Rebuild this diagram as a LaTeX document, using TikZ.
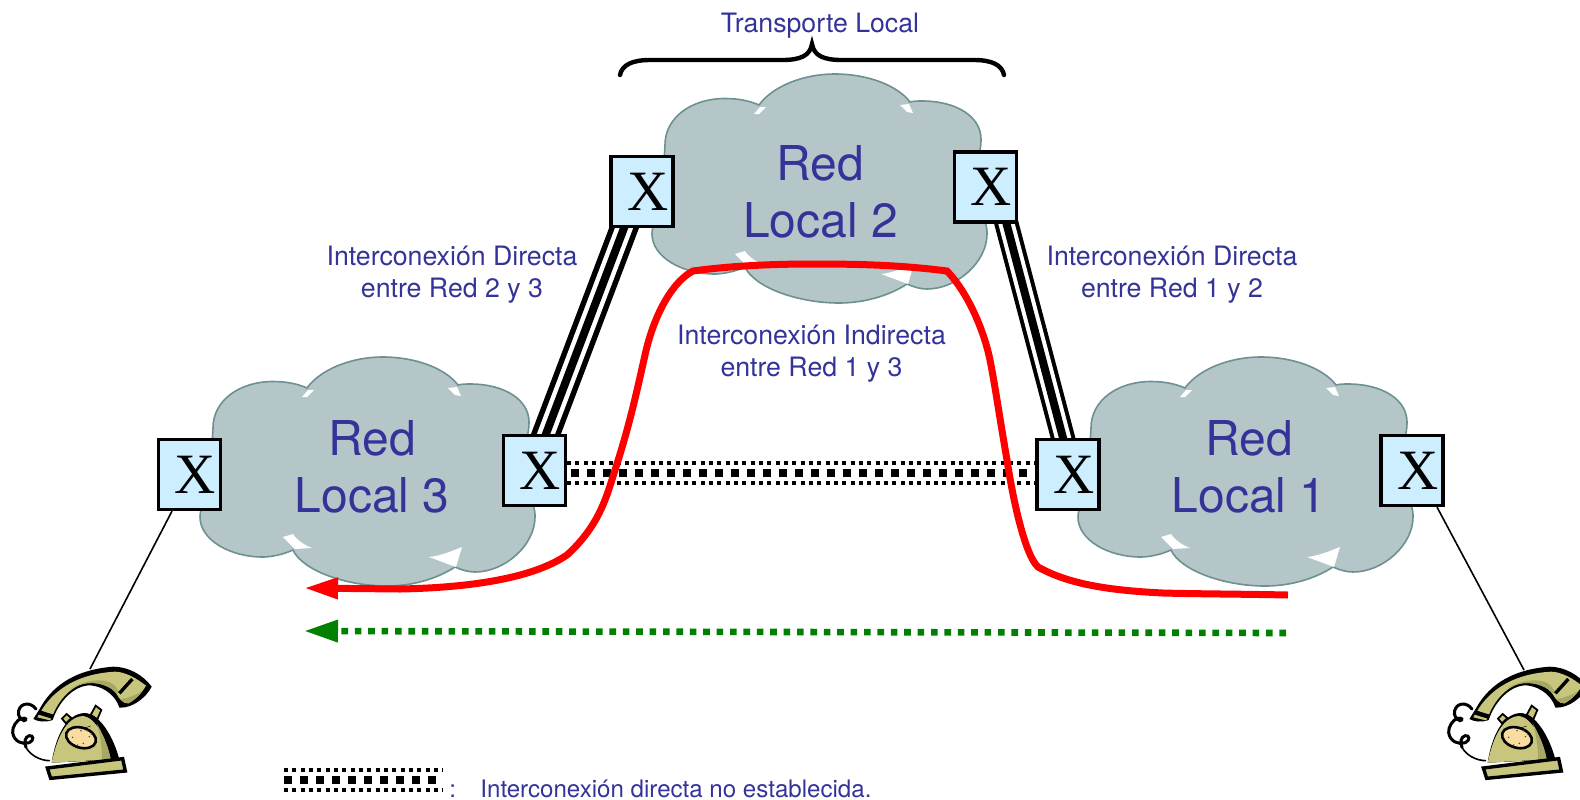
\documentclass[tikz,border=0pt]{standalone}
\usepackage{fontspec}
\setmainfont{TeX Gyre Heros}
\newfontfamily\timesx{Liberation Serif}
\usetikzlibrary{arrows.meta,backgrounds,calc}
\definecolor{txtblue}{HTML}{333399}
\definecolor{cloudfill}{HTML}{B4C6C8}
\definecolor{cloudline}{HTML}{6D9090}
\definecolor{boxfill}{HTML}{CCEEFF}
\definecolor{olive}{HTML}{C8C67C}
\definecolor{olivedark}{HTML}{A8A866}
\definecolor{dialfill}{HTML}{F8DCA0}
\definecolor{linkred}{HTML}{FF0000}
\definecolor{linkgreen}{HTML}{008000}
\tikzset{
  xbox/.style={draw=black,line width=1.6pt,fill=boxfill,minimum width=31pt,minimum height=35pt,inner sep=0pt,
    font=\timesx\fontsize{28.5}{28.5}\selectfont,text=black},
  bigtxt/.style={align=center,inner sep=0pt,text=txtblue,font=\fontsize{24}{28.5}\selectfont},
  smalltxt/.style={align=center,inner sep=0pt,text=txtblue,font=\fontsize{13.35}{16}\selectfont},
  legendtxt/.style={inner sep=0pt,text=txtblue,font=\fontsize{12.05}{14}\selectfont},
  linkouter/.style={line width=#1,draw=black,shorten <=-4pt,shorten >=-4pt},
  dotcenter/.style={line width=4pt,draw=black,dash pattern=on 4pt off 4pt},
  dotouter/.style={line width=2pt,draw=black,dash pattern=on 2pt off 2.17pt},
  phoneline/.style={line width=0.8pt,draw=black},
  redpath/.style={line width=3.5pt,draw=linkred,-{Triangle[length=17pt,width=10pt]}},
  greenpath/.style={line width=3.3pt,draw=linkgreen,dash pattern=on 3.3pt off 3.4pt,-{Triangle[length=17pt,width=10.5pt]}},
  bracestyle/.style={line width=2.2pt,draw=black,line cap=round},
}
\newcommand{\cloudat}[2]{%
 \begin{scope}[shift={(#1,#2)}]
  \draw[fill=cloudfill,draw=cloudline,line width=0.8pt]
   (213,428) .. controls (213,400) and (240,381.5) .. (273,381.5)
   .. controls (287,381.5) and (298,384) .. (307,388)
   .. controls (320,370) and (350,357) .. (383,357)
   .. controls (415,357) and (445,368) .. (458,385)
   .. controls (462,384) and (466,384) .. (470,384)
   .. controls (505,384) and (529,400) .. (529,422)
   .. controls (529,432) and (527,438) .. (524,443)
   -- (533,505)
   .. controls (535,510) and (535,514) .. (535,517)
   .. controls (535,545) and (505,572) .. (475,572)
   .. controls (468,572) and (462,570) .. (455,567)
   .. controls (435,580) and (410,586) .. (387,586)
   .. controls (345,586) and (302,570) .. (293,550)
   .. controls (282,555) and (270,557) .. (263,557)
   .. controls (230,557) and (200,540) .. (200,517)
   .. controls (200,505) and (208,500) .. (210,480) -- cycle;
  \fill[white] (302,397) -- (308,390) -- (314,390) -- (307,397) -- cycle;
  \fill[white] (448,388) -- (457,387) -- (461,396) -- (455,395) -- cycle;
  \fill[white] (283,537) -- (293,534) .. controls (297,540) and (304,545) .. (312,548) -- (295,549) -- cycle;
  \fill[white] (429,557) .. controls (440,556) and (452,551) .. (462,547) -- (456,567) -- cycle;
 \end{scope}}
\newcommand{\phoneat}[1]{%
 \begin{scope}[shift={(#1,640)},xscale=1/3,yscale=1/3]
  % cord
  \draw[black,line width=1.5pt,line cap=round]
    (108,207) .. controls (92,185) and (62,188) .. (56,212)
    .. controls (52,228) and (62,238) .. (72,242)
    .. controls (82,240) and (78,232) .. (66,235)
    .. controls (50,238) and (36,262) .. (38,278)
    .. controls (42,305) and (68,315) .. (88,308)
    .. controls (104,300) and (100,285) .. (88,287)
    .. controls (74,290) and (72,308) .. (78,322);
  \draw[black,line width=0.8pt] (78,322) .. controls (90,345) and (120,362) .. (150,362);
  % handset
  \fill[black] (100,237) -- (120,205) .. controls (150,150) and (210,90) .. (340,80)
    .. controls (385,80) and (430,105) .. (455,140)
    .. controls (440,170) and (400,205) .. (358,203)
    .. controls (350,175) and (320,140) .. (270,136)
    .. controls (225,136) and (178,180) .. (158,240)
    .. controls (135,248) and (115,245) .. (100,237) -- cycle;
  \fill[olive] (124,212) .. controls (152,165) and (215,102) .. (345,95)
    .. controls (375,95) and (410,115) .. (438,137)
    .. controls (425,160) and (405,180) .. (385,190)
    .. controls (370,192) and (358,177) .. (350,162)
    .. controls (335,140) and (300,127) .. (265,129)
    .. controls (225,131) and (180,170) .. (158,226) -- cycle;
  \fill[olive] (116,224) -- (154,236) -- (150,241) -- (112,232) -- cycle;
  \fill[olivedark] (350,162) .. controls (335,140) and (300,127) .. (265,129)
    .. controls (245,130) and (225,138) .. (208,150)
    .. controls (230,128) and (295,112) .. (330,127) .. controls (345,134) and (352,147) .. (356,155) -- cycle;
  \fill[olivedark] (428,152) .. controls (415,170) and (400,182) .. (385,190) .. controls (375,190) and (368,184) .. (362,177) .. controls (385,174) and (410,164) .. (428,152) -- cycle;
  \draw[black,line width=1.1pt] (120,215) -- (160,227);
  \draw[black,line width=1.7pt] (397,117) -- (358,160);
  % knobs
  \draw[fill=olive,draw=black,line width=0.9pt] (186,236) -- (200,222) -- (214,234) -- (198,250) -- cycle;
  \draw[fill=olive,draw=black,line width=0.9pt] (272,225) -- (287,197) -- (304,210) -- (292,238) -- cycle;
  % body
  \fill[black] (155,368) .. controls (165,300) and (195,220) .. (255,219)
    .. controls (300,222) and (340,290) .. (358,358) -- cycle;
  \fill[olive] (155,368) .. controls (168,305) and (195,230) .. (250,228)
    .. controls (285,232) and (320,295) .. (332,358) -- cycle;
  \fill[olivedark] (290,250) .. controls (305,275) and (325,320) .. (332,358) -- (306,362) .. controls (306,325) and (302,285) .. (290,250) -- cycle;
  \draw[black,line width=0.25pt] (235,270) -- (272,258);
  % dial
  \draw[fill=dialfill,draw=black,line width=1.3pt,rotate around={-17:(243,293)}] (243,293) ellipse [x radius=46,y radius=30];
  \foreach \dx/\dy in {218/292,233/315,250/310,268/290,262/272,274/282,243/272}
    {\fill[black!70] (\dx,\dy) circle [radius=2.5];}
  % base
  \draw[fill=olive,draw=black,line width=1.7pt] (142,384) -- (368,356) -- (376,393) -- (152,415) -- cycle;
 \end{scope}}
\begin{document}
\begin{tikzpicture}[x=0.5pt,y=-0.5pt]
\clip (0,0) rectangle (1580,799);
\path[use as bounding box] (0,0) rectangle (1580,799);
\begin{pgfonlayer}{background}
 \cloudat{0}{0}
 \cloudat{452}{-283}
 \cloudat{878}{0}
\end{pgfonlayer}
% switches
\node[xbox] (x3l) at (189.5,474.5) {\hspace*{6pt}X};
\node[xbox] (x3r) at (534.5,470.5) {\hspace*{6pt}X};
\node[xbox] (x2l) at (642,191.5) {\hspace*{6pt}X};
\node[xbox] (x2r) at (985.5,187) {\hspace*{6pt}X};
\node[xbox] (x1l) at (1068,474.5) {\hspace*{6pt}X};
\node[xbox] (x1r) at (1412,470.5) {\hspace*{6pt}X};
% free ends
\coordinate (phoneL) at (90,669);
\coordinate (phoneR) at (1524,670);
\coordinate (da) at ([yshift=-1.25pt]x3r.east);
\coordinate (db) at (x1l.west |- da);
\coordinate (la) at (284,780);
\coordinate (lb) at (443,780);
\coordinate (ra) at (1288,595);
\coordinate (rb) at (304,588);
\coordinate (ga) at (1286,633);
\coordinate (gb) at (304,631);
\begin{pgfonlayer}{background}
 % triple links
 \draw[linkouter=14pt] ([xshift=-9pt]x2l.south) -- ([xshift=5.75pt]x3r.north);
 \draw[linkouter=8.5pt,draw=white] ([xshift=-9pt]x2l.south) -- ([xshift=5.75pt]x3r.north);
 \draw[linkouter=4pt] ([xshift=-9pt]x2l.south) -- ([xshift=5.75pt]x3r.north);
 \draw[linkouter=12pt] ([xshift=10.5pt]x2r.south) -- ([xshift=-2.5pt]x1l.north);
 \draw[linkouter=8pt,draw=white] ([xshift=10.5pt]x2r.south) -- ([xshift=-2.5pt]x1l.north);
 \draw[linkouter=4pt] ([xshift=10.5pt]x2r.south) -- ([xshift=-2.5pt]x1l.north);
 % not established link
 \draw[dotouter] ([yshift=5pt]da) -- ([yshift=5pt]db);
 \draw[dotcenter,dash phase=-2pt] (da) -- (db);
 \draw[dotouter] ([yshift=-5pt]da) -- ([yshift=-5pt]db);
 % lines to phones
 \draw[phoneline] ([xshift=-8.75pt]x3l.south) -- (phoneL);
 \draw[phoneline] ([xshift=12.5pt]x1r.south) -- (phoneR);
\end{pgfonlayer}
% texts
\node[bigtxt] (r3) at (372,466.5) {Red\\Local 3};
\node[bigtxt] (r2) at (820.5,191.5) {Red\\Local 2};
\node[bigtxt] (r1) at (1249,466.5) {Red\\Local 1};
\node[smalltxt,anchor=base] (tl) at (820,32) {Transporte Local};
\node[smalltxt] (i23) at (452,275) {Interconexión Directa\\entre Red 2 y 3};
\node[smalltxt] (i12) at (1172,275) {Interconexión Directa\\entre Red 1 y 2};
\node[smalltxt] (i13) at (811.5,354) {Interconexión Indirecta\\entre Red 1 y 3};
% brace
\draw[bracestyle] (620,75) .. controls (622,65) and (632,60) .. (650,60) -- (782,60)
  .. controls (800,60) and (810,56) .. (812,44)
  .. controls (814,56) and (824,60) .. (842,60) -- (974,60)
  .. controls (992,60) and (1002,65) .. (1004,75);
% paths
\draw[redpath] (ra) .. controls (1240,594) and (1200,594) .. (1163,593)
  .. controls (1100,590) and (1065,582) .. (1038,567)
  .. controls (1025,555) and (1013,500) .. (1007,460)
  .. controls (1000,420) and (995,385) .. (990,360)
  .. controls (985,335) and (970,295) .. (947,271)
  .. controls (900,265) and (860,264) .. (813,264)
  .. controls (770,264) and (730,266) .. (693,271)
  .. controls (675,280) and (655,310) .. (645,355)
  .. controls (635,400) and (628,430) .. (615,470)
  .. controls (607,495) and (600,525) .. (567,555)
  .. controls (545,570) and (500,587) .. (400,589)
  -- (rb);
\draw[greenpath] (ga) -- (gb);
% legend
\draw[dotouter] ([yshift=5pt]la) -- ([yshift=5pt]lb);
\draw[dotcenter] (la) -- (lb);
\draw[dotouter] ([yshift=-5pt]la) -- ([yshift=-5pt]lb);
\node[legendtxt,anchor=base west] (lc) at (449,797) {:};
\node[legendtxt,anchor=base west] (lt) at (480,797) {Interconexión directa no establecida.};
% telephones
\phoneat{0}
\phoneat{1436}
\end{tikzpicture}
\end{document}
